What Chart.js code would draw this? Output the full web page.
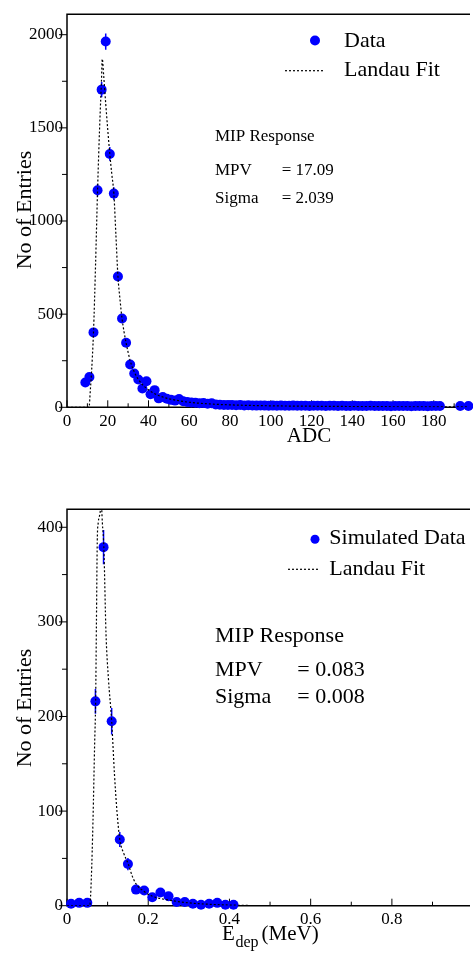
<!DOCTYPE html>
<html>
<head>
<meta charset="utf-8">
<script src="https://cdn.jsdelivr.net/npm/chart.js@4.4.1/dist/chart.umd.min.js"></script>
<style>
    html, body { margin: 0; padding: 0; background: #fff; overflow: hidden; }
    canvas { position: absolute; left: 0; }
    #adcChart { top: 0; }
    #edepChart { top: 460px; }
</style>
</head>
<body>
<canvas id="adcChart" width="473" height="460"></canvas>
<canvas id="edepChart" width="473" height="494"></canvas>
<script>
// ---- top panel: measured ADC spectrum ----
const adcBins = [9, 11, 13, 15, 17, 19, 21, 23, 25, 27, 29, 31, 33, 35, 37, 39, 41, 43, 45, 47,
    49, 51, 53, 55, 57, 59, 61, 63, 65, 67, 69, 71, 73, 75, 77, 79, 81, 83, 85, 87,
    89, 91, 93, 95, 97, 99, 101, 103, 105, 107, 109, 111, 113, 115, 117, 119, 121, 123, 125, 127,
    129, 131, 133, 135, 137, 139, 141, 143, 145, 147, 149, 151, 153, 155, 157, 159, 161, 163, 165, 167,
    169, 171, 173, 175, 177, 179, 181, 183, 193, 197];
const adcCounts = [133, 163, 402, 1165, 1705, 1963, 1360, 1147, 702, 477, 346, 230, 181, 149, 101, 140, 70, 92, 48, 55,
    46, 40, 36, 45, 32, 28, 26, 24, 22, 23, 19, 22, 15, 14, 13, 12, 12, 11, 12, 10,
    11, 10, 9, 10, 9, 8, 9, 8, 9, 8, 8, 9, 8, 8, 8, 7, 8, 8, 8, 7,
    8, 8, 7, 8, 7, 7, 8, 7, 7, 7, 8, 7, 7, 7, 7, 6, 7, 7, 7, 7,
    6, 7, 7, 7, 6, 7, 7, 7, 7, 7];
const adcErrors = [12, 13, 20, 34, 41, 44, 37, 34, 26, 22, 19, 15, 13, 12, 10, 12];
const adcFitX = [0, 10.8, 11.5, 12, 13, 14, 15, 16, 16.9, 17.3, 18, 19, 20, 21, 22, 23, 24, 25, 26, 27,
    28, 29, 30, 31, 33, 35, 37, 39, 41, 45, 50, 55, 60, 70, 80, 100, 130, 160, 197];
const adcFitY = [0, 0, 100, 180, 402, 760, 1165, 1500, 1750, 1870, 1780, 1630, 1490, 1360, 1250, 1147, 925, 702, 580, 477,
    405, 346, 295, 250, 190, 150, 122, 102, 86, 63, 46, 35, 27, 18, 13, 8, 5, 3, 2];
const adcTicks = [0, 20, 40, 60, 80, 100, 120, 140, 160, 180];
const adcMinorTicks = [10, 30, 50, 70, 90, 110, 130, 150, 170, 190];
const adcCountTicks = [0, 500, 1000, 1500, 2000];
const adcCountMinor = [250, 750, 1250, 1750];

// ---- bottom panel: simulated deposited energy ----
const edepBins = [0.01, 0.03, 0.05, 0.07, 0.09, 0.11, 0.13, 0.15, 0.17, 0.19, 0.21,
    0.23, 0.25, 0.27, 0.29, 0.31, 0.33, 0.35, 0.37, 0.39, 0.41];
const edepCounts = [2, 3, 3, 216, 379, 195, 70, 44, 17, 16, 9, 14, 10, 4, 4, 2, 1, 2, 3, 1, 1];
const edepErrors = [1.5, 2, 2, 13, 18, 14, 8, 6.5, 4, 4, 3, 4, 3, 2, 2, 1.5, 1, 1.5, 2, 1, 1];
const edepFitX = [0, 0.056, 0.06, 0.064, 0.068, 0.0705, 0.0725, 0.0745, 0.077, 0.081, 0.0845, 0.087, 0.0907, 0.096, 0.102,
    0.110, 0.117, 0.123, 0.130, 0.140, 0.151, 0.160, 0.170, 0.190, 0.210, 0.250, 0.300, 0.350, 0.420, 0.500, 0.990];
const edepFitY = [0, 0, 30, 90, 170, 216, 300, 385, 405, 414, 425, 405, 379, 288, 240,
    195, 138, 100, 70, 55, 44, 32, 23, 15, 10, 6, 3, 1.5, 0.5, 0, 0];
const edepTicks = [0, 0.2, 0.4, 0.6, 0.8];
const edepMinorTicks = [0.1, 0.3, 0.5, 0.7, 0.9];
const edepCountTicks = [0, 100, 200, 300, 400];
const edepCountMinor = [50, 150, 250, 350];

const colors = {
    blue: '#0000ff',
    black: '#000000'
};
const serif = '"Liberation Serif", "DejaVu Serif", serif';

const toPoints = (xs, ys) => xs.map((x, i) => ({ x: x, y: ys[i] }));
const plainLabel = value => String(value);

// frame (top, left, bottom) plus ROOT-style tick marks
const frameTicks = {
    id: 'frameTicks',
    beforeDatasetsDraw(chart, args, opts) {
        const { ctx, chartArea: a, scales: { x, y } } = chart;
        ctx.save();
        ctx.strokeStyle = colors.black;
        ctx.lineWidth = 1.5;
        ctx.beginPath();
        ctx.moveTo(a.right + 2, a.top);
        ctx.lineTo(a.left, a.top);
        ctx.lineTo(a.left, a.bottom);
        ctx.lineTo(a.right + 2, a.bottom);
        ctx.stroke();

        ctx.lineWidth = 1;
        ctx.beginPath();
        opts.yMajor.forEach(v => {
            const p = y.getPixelForValue(v);
            ctx.moveTo(a.left - 8, p);
            ctx.lineTo(a.left, p);
        });
        opts.yMinor.forEach(v => {
            const p = y.getPixelForValue(v);
            ctx.moveTo(a.left - 5, p);
            ctx.lineTo(a.left, p);
        });
        opts.xMajor.forEach(v => {
            const p = x.getPixelForValue(v);
            ctx.moveTo(p, a.bottom);
            ctx.lineTo(p, a.bottom - 7);
        });
        opts.xMinor.forEach(v => {
            const p = x.getPixelForValue(v);
            ctx.moveTo(p, a.bottom);
            ctx.lineTo(p, a.bottom - 4);
        });
        ctx.stroke();

        // statistical error bars
        ctx.strokeStyle = colors.blue;
        ctx.lineWidth = 1.5;
        ctx.beginPath();
        opts.errors.forEach((e, i) => {
            const px = x.getPixelForValue(opts.bins[i]);
            ctx.moveTo(px, y.getPixelForValue(opts.counts[i] - e));
            ctx.lineTo(px, y.getPixelForValue(opts.counts[i] + e));
        });
        ctx.stroke();
        ctx.restore();
    }
};

// legend, fit box and axis titles
const panelText = {
    id: 'panelText',
    afterDraw(chart, args, opts) {
        const ctx = chart.ctx;
        ctx.save();
        opts.marks.forEach(m => {
            if (m.type === 'dot') {
                ctx.fillStyle = colors.blue;
                ctx.beginPath();
                ctx.arc(m.x, m.y, m.r, 0, Math.PI * 2);
                ctx.fill();
            } else {
                ctx.strokeStyle = colors.black;
                ctx.lineWidth = 1.2;
                ctx.setLineDash([2, 2]);
                ctx.beginPath();
                ctx.moveTo(m.x1, m.y);
                ctx.lineTo(m.x2, m.y);
                ctx.stroke();
                ctx.setLineDash([]);
            }
        });
        ctx.fillStyle = colors.black;
        opts.texts.forEach(t => {
            ctx.save();
            ctx.font = t.size + 'px ' + serif;
            ctx.textAlign = t.align || 'left';
            ctx.textBaseline = t.baseline || 'middle';
            ctx.translate(t.x, t.y);
            if (t.rotate) ctx.rotate(t.rotate);
            ctx.fillText(t.text, 0, 0);
            ctx.restore();
        });
        ctx.restore();
    }
};

const commonOptions = {
    responsive: false,
    animation: false,
    events: []
};

const tickFont = { family: serif, size: 17 };

function axisX(max, ticks, height) {
    return {
        type: 'linear',
        min: 0,
        max: max,
        afterBuildTicks: scale => { scale.ticks = ticks.map(v => ({ value: v })); },
        afterFit: scale => { scale.height = height; },
        grid: { display: false, drawTicks: false },
        border: { display: false },
        ticks: { padding: 4, color: colors.black, font: tickFont, autoSkip: false, maxRotation: 0, callback: plainLabel }
    };
}

function axisY(max, ticks) {
    return {
        type: 'linear',
        min: 0,
        max: max,
        afterBuildTicks: scale => { scale.ticks = ticks.map(v => ({ value: v })); },
        afterFit: scale => { scale.width = 67; },
        grid: { display: false, drawTicks: false },
        border: { display: false },
        ticks: { padding: 4, color: colors.black, font: tickFont, callback: plainLabel }
    };
}

// ADC Chart
new Chart(document.getElementById('adcChart'), {
    type: 'scatter',
    data: {
        datasets: [{
            label: 'Landau Fit',
            data: toPoints(adcFitX, adcFitY),
            showLine: true,
            borderColor: colors.black,
            borderWidth: 1.2,
            borderDash: [2, 2],
            pointRadius: 0,
            cubicInterpolationMode: 'monotone'
        }, {
            label: 'Data',
            data: toPoints(adcBins, adcCounts),
            backgroundColor: colors.blue,
            borderWidth: 0,
            pointRadius: 5,
            clip: false
        }]
    },
    options: {
        ...commonOptions,
        layout: { padding: { top: 11, left: 0, right: 0, bottom: 0 } },
        scales: {
            x: axisX(196.8, adcTicks, 52.7),
            y: axisY(2110, adcCountTicks)
        },
        plugins: {
            legend: { display: false },
            tooltip: { enabled: false },
            frameTicks: {
                xMajor: adcTicks, xMinor: adcMinorTicks,
                yMajor: adcCountTicks, yMinor: adcCountMinor,
                bins: adcBins, counts: adcCounts, errors: adcErrors
            },
            panelText: {
                marks: [
                    { type: 'dot', x: 315, y: 40.5, r: 5 },
                    { type: 'dash', x1: 285, x2: 325, y: 70.7 }
                ],
                texts: [
                    { text: 'Data', x: 344, y: 41.5, size: 22 },
                    { text: 'Landau Fit', x: 344, y: 70.5, size: 22 },
                    { text: 'MIP Response', x: 215, y: 137, size: 17 },
                    { text: 'MPV', x: 215, y: 171, size: 17 },
                    { text: '= 17.09', x: 281.7, y: 171, size: 17 },
                    { text: 'Sigma', x: 215, y: 198.5, size: 17 },
                    { text: '= 2.039', x: 281.7, y: 198.5, size: 17 },
                    { text: 'No of Entries', x: 25, y: 210, size: 22, align: 'center', rotate: -Math.PI / 2 },
                    { text: 'ADC', x: 309, y: 442, size: 21, align: 'center', baseline: 'alphabetic' }
                ]
            }
        }
    },
    plugins: [frameTicks, panelText]
});

// Edep Chart
new Chart(document.getElementById('edepChart'), {
    type: 'scatter',
    data: {
        datasets: [{
            label: 'Landau Fit',
            data: toPoints(edepFitX, edepFitY),
            showLine: true,
            borderColor: colors.black,
            borderWidth: 1.2,
            borderDash: [2, 2],
            pointRadius: 0,
            cubicInterpolationMode: 'monotone'
        }, {
            label: 'Simulated Data',
            data: toPoints(edepBins, edepCounts),
            backgroundColor: colors.blue,
            borderWidth: 0,
            pointRadius: 5,
            clip: false
        }]
    },
    options: {
        ...commonOptions,
        layout: { padding: { top: 49.3, left: 0, right: 0, bottom: 0 } },
        scales: {
            x: axisX(0.9874, edepTicks, 48.3),
            y: axisY(419, edepCountTicks)
        },
        plugins: {
            legend: { display: false },
            tooltip: { enabled: false },
            frameTicks: {
                xMajor: edepTicks, xMinor: edepMinorTicks,
                yMajor: edepCountTicks, yMinor: edepCountMinor,
                bins: edepBins, counts: edepCounts, errors: edepErrors
            },
            panelText: {
                marks: [
                    { type: 'dot', x: 315, y: 79.3, r: 4.5 },
                    { type: 'dash', x1: 288, x2: 318, y: 109.3 }
                ],
                texts: [
                    { text: 'Simulated Data', x: 329.3, y: 78.5, size: 22 },
                    { text: 'Landau Fit', x: 329.3, y: 109, size: 22 },
                    { text: 'MIP Response', x: 215, y: 176, size: 22 },
                    { text: 'MPV', x: 215, y: 210, size: 22 },
                    { text: '= 0.083', x: 297.3, y: 210, size: 22 },
                    { text: 'Sigma', x: 215, y: 237.3, size: 22 },
                    { text: '= 0.008', x: 297.3, y: 237.3, size: 22 },
                    { text: 'No of Entries', x: 25, y: 248, size: 22, align: 'center', rotate: -Math.PI / 2 },
                    { text: 'E', x: 222, y: 480, size: 21, baseline: 'alphabetic' },
                    { text: 'dep', x: 235.5, y: 487, size: 16, baseline: 'alphabetic' },
                    { text: '(MeV)', x: 261.5, y: 480, size: 21, baseline: 'alphabetic' }
                ]
            }
        }
    },
    plugins: [frameTicks, panelText]
});
</script>
</body>
</html>
